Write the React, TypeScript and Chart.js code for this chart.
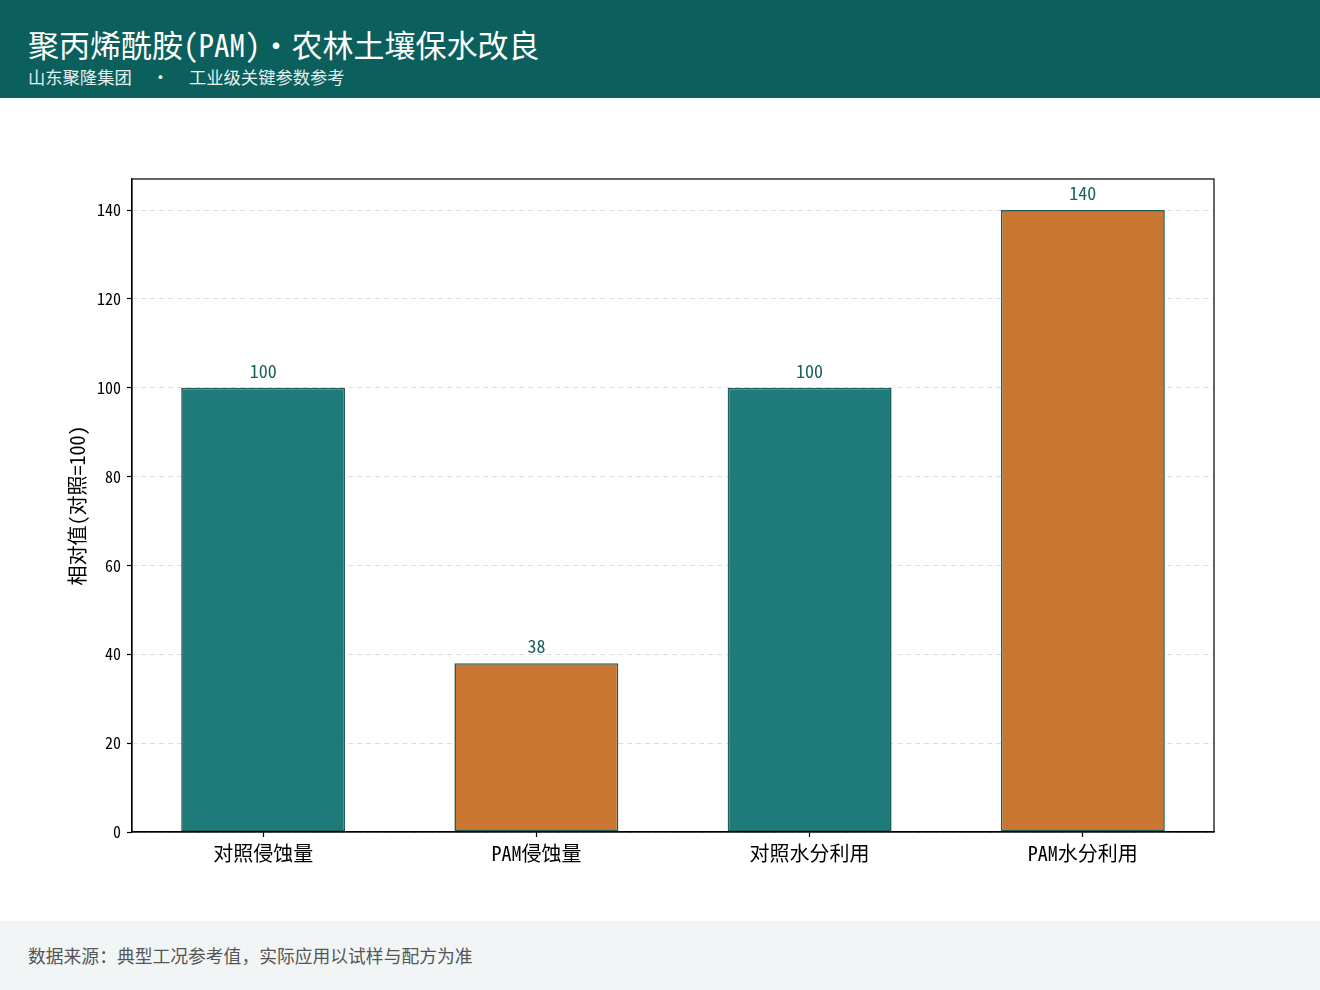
import React, { useEffect, useRef } from "react";
import { Chart, registerables } from "chart.js";

Chart.register(...registerables);

const categories = ["对照侵蚀量", "PAM侵蚀量", "对照水分利用", "PAM水分利用"];
const values = [100, 38, 100, 140];
const barColors = ["#1f7b7a", "#c87630", "#1f7b7a", "#c87630"];
const yTickValues = [0, 20, 40, 60, 80, 100, 120, 140];

const TITLE = "聚丙烯酰胺(PAM)・农林土壤保水改良";
const SUB_LEFT = "山东聚隆集团";
const SUB_RIGHT = "工业级关键参数参考";
const FOOTER = "数据来源：典型工况参考值，实际应用以试样与配方为准";
const Y_TITLE = "相对值(对照=100)";

const FONT = '"Noto Sans Mono CJK SC", "Noto Sans CJK SC", "DejaVu Sans", sans-serif';

const CANVAS_W = 1320;
const CANVAS_H = 823;

const valueLabelPlugin = {
  id: "valueLabels",
  afterDatasetsDraw(chart: any) {
    const ctx = chart.ctx;
    const meta = chart.getDatasetMeta(0);
    ctx.save();
    ctx.font = `18px ${FONT}`;
    ctx.fillStyle = "#1a625f";
    ctx.textAlign = "center";
    ctx.textBaseline = "alphabetic";
    meta.data.forEach((el: any, i: number) => {
      ctx.fillText(String(values[i]), el.x, el.y - 10);
    });
    ctx.restore();
  },
};

const framePlugin = {
  id: "frame",
  afterDraw(chart: any) {
    const { ctx, chartArea } = chart;
    ctx.save();
    ctx.strokeStyle = "#000";
    ctx.lineWidth = 1.2;
    ctx.strokeRect(chartArea.left, chartArea.top, chartArea.right - chartArea.left, chartArea.bottom - chartArea.top);
    ctx.restore();
  },
};

export default function App() {
  const canvasRef = useRef<HTMLCanvasElement | null>(null);

  useEffect(() => {
    document.body.style.margin = "0";
    const canvas = canvasRef.current;
    if (!canvas) return;
    const chart = new Chart(canvas, {
      type: "bar",
      data: {
        datasets: [
          {
            data: values.map((v, i) => ({ x: i, y: v })),
            backgroundColor: barColors,
            borderColor: "#1e5f5c",
            borderWidth: 1.6,
            borderSkipped: false,
            barPercentage: 1,
            categoryPercentage: 0.6,
          },
        ],
      },
      options: {
        animation: false,
        responsive: false,
        devicePixelRatio: 1,
        layout: { padding: { top: 81, right: 106, left: 0, bottom: 0 } },
        plugins: {
          legend: { display: false },
          tooltip: { enabled: false },
          title: { display: false },
        },
        scales: {
          x: {
            type: "linear",
            min: -0.48,
            max: 3.48,
            offset: false,
            afterBuildTicks: (axis: any) => {
              axis.ticks = categories.map((_, i) => ({ value: i }));
            },
            afterFit: (scale: any) => {
              scale.height = 89;
            },
            ticks: {
              callback: (v: any) => categories[Math.round(Number(v))] ?? "",
              font: { size: 20, family: FONT },
              color: "#000",
              padding: 4,
              maxRotation: 0,
              autoSkip: false,
            },
            grid: {
              display: true,
              offset: false,
              drawOnChartArea: false,
              color: "rgba(0,0,0,0)",
              tickColor: "#000",
              tickLength: 5,
              tickWidth: 1.2,
            },
            border: { display: true, color: "#000", width: 1.2 },
          },
          y: {
            type: "linear",
            min: 0,
            max: 147,
            afterBuildTicks: (axis: any) => {
              axis.ticks = yTickValues.map((v) => ({ value: v }));
            },
            afterFit: (scale: any) => {
              scale.width = 132;
            },
            ticks: {
              font: { size: 16, family: FONT },
              color: "#000",
              padding: 6,
            },
            grid: {
              color: "#dddddd",
              lineWidth: 1,
              tickColor: "#000",
              tickLength: 5,
              tickWidth: 1.2,
            },
            border: { display: true, color: "#000", width: 1.2, dash: [5, 4] },
            title: {
              display: true,
              text: Y_TITLE,
              font: { size: 20, family: FONT },
              color: "#000",
              padding: { top: 65, bottom: 0 },
            },
          },
        },
      } as any,
      plugins: [valueLabelPlugin, framePlugin],
    });
    return () => chart.destroy();
  }, []);

  return (
    <div style={{ position: "relative", width: 1320, height: 990, overflow: "hidden", background: "#fff", fontFamily: FONT }}>
      <div
        style={{
          position: "absolute",
          left: 0,
          top: 0,
          width: 1320,
          height: 98,
          background: "#0b5f5c",
          color: "#fff",
        }}
      >
        <div style={{ position: "absolute", left: 28, top: 24, fontSize: 31, lineHeight: "40px", whiteSpace: "nowrap" }}>{TITLE}</div>
        <div style={{ position: "absolute", left: 28, top: 66, fontSize: 17.3, lineHeight: "22px", whiteSpace: "nowrap", color: "#e6f0ef" }}>
          <span>{SUB_LEFT}</span>
          <span style={{ display: "inline-block", margin: "0 20px 0 20px" }}>·</span>
          <span>{SUB_RIGHT}</span>
        </div>
      </div>
      <div style={{ position: "absolute", left: 0, top: 98, width: CANVAS_W, height: CANVAS_H }}>
        <canvas ref={canvasRef} width={CANVAS_W} height={CANVAS_H} style={{ width: CANVAS_W, height: CANVAS_H, display: "block" }} />
      </div>
      <div
        style={{
          position: "absolute",
          left: 0,
          top: 921,
          width: 1320,
          height: 69,
          background: "#f1f5f5",
        }}
      >
        <div style={{ position: "absolute", left: 28, top: 22, fontSize: 17.8, lineHeight: "24px", color: "#555", whiteSpace: "nowrap" }}>{FOOTER}</div>
      </div>
    </div>
  );
}
